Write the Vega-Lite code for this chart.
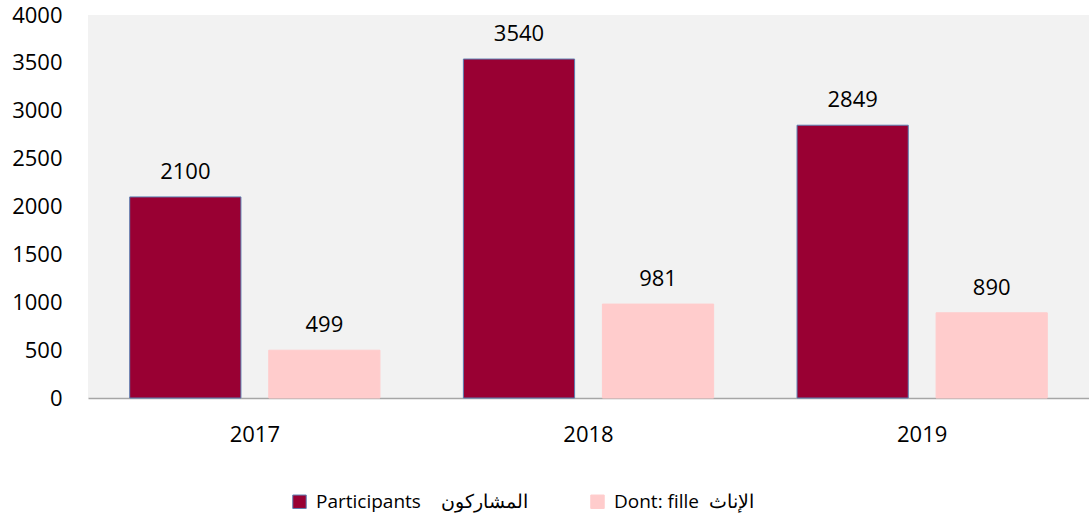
{
  "$schema": "https://vega.github.io/schema/vega-lite/v6.json",
  "width": 1001,
  "height": 383,
  "autosize": {"type": "none"},
  "padding": {"left": 88, "top": 15, "right": 0, "bottom": 124},
  "background": "white",
  "config": {
    "view": {"fill": "#F2F2F2", "stroke": null},
    "font": "Open Sans",
    "axis": {"labelFont": "Open Sans", "labelFontSize": 22, "labelColor": "#000000", "grid": false, "ticks": false, "title": null},
    "legend": {"labelFont": "Open Sans", "labelFontSize": 19, "labelColor": "#000000"}
  },
  "data": {
    "values": [
      {"year": "2017", "series": "Participants\u00a0\u00a0\u00a0 المشاركون", "value": 2100},
      {"year": "2017", "series": "Dont: fille\u00a0 الإناث", "value": 499},
      {"year": "2018", "series": "Participants\u00a0\u00a0\u00a0 المشاركون", "value": 3540},
      {"year": "2018", "series": "Dont: fille\u00a0 الإناث", "value": 981},
      {"year": "2019", "series": "Participants\u00a0\u00a0\u00a0 المشاركون", "value": 2849},
      {"year": "2019", "series": "Dont: fille\u00a0 الإناث", "value": 890}
    ]
  },
  "encoding": {
    "x": {
      "field": "year", "type": "nominal",
      "scale": {"paddingInner": 0, "paddingOuter": 0},
      "axis": {"labelAngle": 0, "labelPadding": 26, "domainColor": "#A6A6A6", "domainWidth": 1.5}
    },
    "xOffset": {
      "field": "series", "type": "nominal",
      "sort": ["Participants\u00a0\u00a0\u00a0 المشاركون", "Dont: fille\u00a0 الإناث"],
      "scale": {"paddingInner": 0.2, "paddingOuter": 0.3}
    },
    "y": {
      "field": "value", "type": "quantitative",
      "scale": {"domain": [0, 4000], "nice": false},
      "axis": {"values": [0, 500, 1000, 1500, 2000, 2500, 3000, 3500, 4000], "format": "d", "domain": false, "labelPadding": 26}
    }
  },
  "layer": [
    {
      "mark": {"type": "bar", "strokeWidth": 1},
      "encoding": {
        "fill": {
          "field": "series", "type": "nominal",
          "sort": ["Participants\u00a0\u00a0\u00a0 المشاركون", "Dont: fille\u00a0 الإناث"],
          "scale": {"domain": ["Participants\u00a0\u00a0\u00a0 المشاركون", "Dont: fille\u00a0 الإناث"], "range": ["#990033", "#FFCCCC"]},
          "legend": {
            "title": null, "orient": "none", "direction": "horizontal",
            "legendX": 202, "legendY": 477,
            "symbolType": "square", "symbolSize": 180, "symbolStrokeWidth": 1,
            "labelOffset": 7, "columnPadding": 60, "labelLimit": 400
          }
        },
        "stroke": {
          "field": "series", "type": "nominal",
          "sort": ["Participants\u00a0\u00a0\u00a0 المشاركون", "Dont: fille\u00a0 الإناث"],
          "scale": {"domain": ["Participants\u00a0\u00a0\u00a0 المشاركون", "Dont: fille\u00a0 الإناث"], "range": ["#5B7DB1", "#FFCCCC"]},
          "legend": null
        }
      }
    },
    {
      "mark": {"type": "text", "baseline": "alphabetic", "dy": -18, "fontSize": 22, "color": "#000000"},
      "encoding": {
        "text": {"field": "value", "type": "quantitative"}
      }
    }
  ]
}
